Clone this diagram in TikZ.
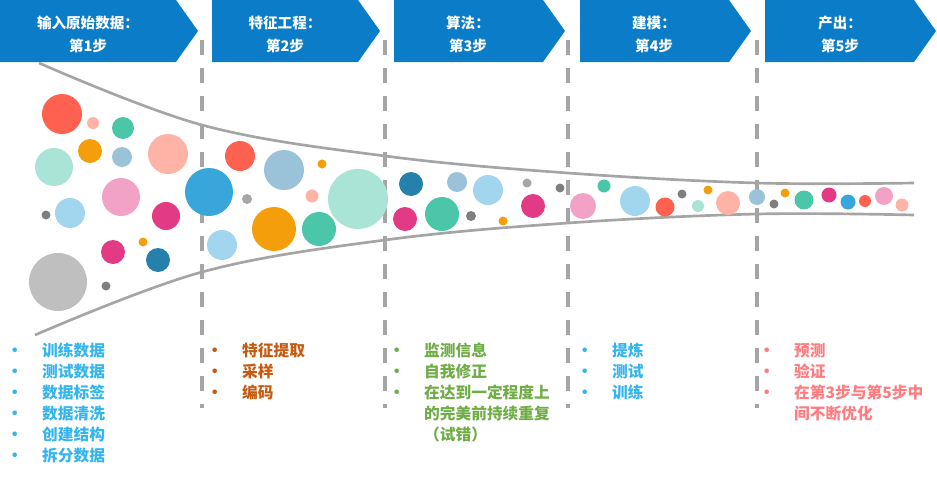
\documentclass[tikz,border=0pt]{standalone}
\usepackage{fontspec}
\setmainfont{Noto Sans CJK SC}
\usetikzlibrary{calc}
\definecolor{chevblue}{HTML}{0B7CC7}
\definecolor{guidegray}{HTML}{A5A5A5}
\definecolor{ctomato}{HTML}{FF6150}
\definecolor{csalmon}{HTML}{FFB3A7}
\definecolor{cteal}{HTML}{4CC6A8}
\definecolor{corange}{HTML}{F59E0B}
\definecolor{csteel}{HTML}{9AC2D8}
\definecolor{cmint}{HTML}{AAE4D6}
\definecolor{cpink}{HTML}{F2A2C5}
\definecolor{cdgray}{HTML}{7F7F7F}
\definecolor{clgray}{HTML}{A6A6A6}
\definecolor{cbgray}{HTML}{BFBFBF}
\definecolor{csky}{HTML}{A2D5EE}
\definecolor{cmagenta}{HTML}{E23A85}
\definecolor{cblue}{HTML}{38A6DA}
\definecolor{cnavy}{HTML}{2580AB}
\definecolor{txtblue}{HTML}{35B5EE}
\definecolor{txtbrown}{HTML}{C55A11}
\definecolor{txtgreen}{HTML}{70AD47}
\definecolor{txtrose}{HTML}{FF7C80}
\def\chevron(#1:#2){\fill[chevblue] (#1,0) -- (#2,0) -- ({#2+22},31) -- (#2,62) -- (#1,62) -- cycle;}
\newcommand{\itemdot}{\makebox[0.84cm][l]{\hspace*{-6.5pt}{\fontsize{14pt}{14pt}\selectfont •}}}
\newcommand{\itemgap}{\hspace*{0.84cm}}
\tikzset{
  headtext/.style={font=\fontsize{12.4pt}{19.6pt}\selectfont\bfseries, text=white, align=center, inner sep=0pt},
  listtext/.style={font=\fontsize{13.4pt}{17.9pt}\selectfont\bfseries, align=left, anchor=north west, inner sep=0pt},
  divider/.style={line width=0.12cm, color=guidegray, dash pattern=on 0.45cm off 0.39cm},
  funnel/.style={line width=0.08cm, color=guidegray}
}

\begin{document}
\begin{tikzpicture}[x=0.03cm, y=-0.03cm]
	%%%%% START %%%%%
	\useasboundingbox (0,0) rectangle (937,477);
	
	\chevron(0:176)
	\chevron(212:358)
	\chevron(394:543)
	\chevron(580:729)
	\chevron(765:914)
	
	\node[headtext] (hdinput) at (88, 34.5) {输入原始数据：\\第1步};
	\node[headtext] (hdfeature) at (285, 34.5) {特征工程：\\第2步};
	\node[headtext] (hdalgo) at (468, 34.5) {算法：\\第3步};
	\node[headtext] (hdmodel) at (654, 34.5) {建模：\\第4步};
	\node[headtext] (hdoutput) at (840, 34.5) {产出：\\第5步};
	
	\draw[divider] (202, 40) -- (202, 408);
	\draw[divider] (385, 40) -- (385, 408);
	\draw[divider] (568, 40) -- (568, 408);
	\draw[divider] (757, 40) -- (757, 408);
	
	\draw[funnel] plot[smooth, tension=0.6] coordinates {(39,63) (202,125) (385,156) (568,173) (757,183) (914,183)};
	\draw[funnel] plot[smooth, tension=0.6] coordinates {(35,335) (202,272) (385,240) (568,223) (757,214) (914,215)};
	
	\fill[ctomato] (62, 114) circle (20);
	\fill[csalmon] (93, 123) circle (6);
	\fill[cteal] (123, 128) circle (11);
	\fill[corange] (90, 151) circle (12);
	\fill[csteel] (122, 157) circle (10);
	\fill[csalmon] (168, 154) circle (20);
	\fill[cmint] (54, 167) circle (19);
	\fill[cpink] (121, 197) circle (19);
	\fill[cdgray] (46, 215) circle (4.5);
	\fill[csky] (70, 213) circle (15);
	\fill[cmagenta] (166, 216) circle (14);
	\fill[cmagenta] (113, 252) circle (12);
	\fill[corange] (143, 242) circle (4.5);
	\fill[cnavy] (158, 260) circle (12);
	\fill[cbgray] (58, 282) circle (29);
	\fill[cdgray] (106, 286) circle (4.5);
	
	\fill[cblue] (209, 192) circle (24);
	\fill[csky] (222, 245) circle (15);
	\fill[ctomato] (240, 156) circle (15);
	\fill[clgray] (247, 199) circle (5);
	\fill[csteel] (284, 170) circle (20);
	\fill[corange] (322, 164) circle (4.5);
	\fill[csalmon] (312, 196) circle (6.5);
	\fill[corange] (274, 229) circle (22);
	\fill[cteal] (319, 229) circle (17);
	\fill[cmint] (358, 199) circle (30);
	
	\fill[cnavy] (411, 184) circle (12);
	\fill[cmagenta] (405, 219) circle (12);
	\fill[csteel] (457, 182) circle (10);
	\fill[cteal] (442, 214) circle (17);
	\fill[cdgray] (471, 216) circle (5);
	\fill[csky] (488, 190) circle (15);
	\fill[clgray] (527, 183) circle (4.5);
	\fill[corange] (503, 221) circle (4.5);
	\fill[cmagenta] (533, 206) circle (12);
	\fill[cdgray] (560, 188) circle (4.5);
	
	\fill[cpink] (583, 206) circle (13);
	\fill[cteal] (604, 186) circle (6.5);
	\fill[csky] (635, 201) circle (15);
	\fill[ctomato] (665, 207) circle (9.5);
	\fill[cdgray] (682, 194) circle (4.5);
	\fill[cmint] (698, 206) circle (6);
	\fill[corange] (708, 190) circle (4.5);
	\fill[csalmon] (728, 203) circle (12);
	
	\fill[csteel] (757, 197) circle (8);
	\fill[cdgray] (774, 204) circle (4.5);
	\fill[corange] (785, 193) circle (4.5);
	\fill[cteal] (804, 200) circle (9.5);
	\fill[cmagenta] (829, 195) circle (7.5);
	\fill[cblue] (848, 202) circle (7.5);
	\fill[ctomato] (865, 201) circle (6);
	\fill[cpink] (884, 196) circle (9);
	\fill[csalmon] (902, 205) circle (6.5);
	
	\node[listtext, text=txtblue] (lsinput) at (14, 343) {\itemdot 训练数据\\\itemdot 测试数据\\\itemdot 数据标签\\\itemdot 数据清洗\\\itemdot 创建结构\\\itemdot 拆分数据};
	\node[listtext, text=txtbrown] (lsfeature) at (214, 343) {\itemdot 特征提取\\\itemdot 采样\\\itemdot 编码};
	\node[listtext, text=txtgreen] (lsalgo) at (396, 343) {\itemdot 监测信息\\\itemdot 自我修正\\\itemdot 在达到一定程度上\\\itemgap 的完美前持续重复\\\itemgap （试错）};
	\node[listtext, text=txtblue] (lsmodel) at (584, 343) {\itemdot 提炼\\\itemdot 测试\\\itemdot 训练};
	\node[listtext, text=txtrose] (lsoutput) at (766, 343) {\itemdot 预测\\\itemdot 验证\\\itemdot 在第3步与第5步中\\\itemgap 间不断优化};
	
	%%%%% END %%%%%
\end{tikzpicture}
\end{document}
